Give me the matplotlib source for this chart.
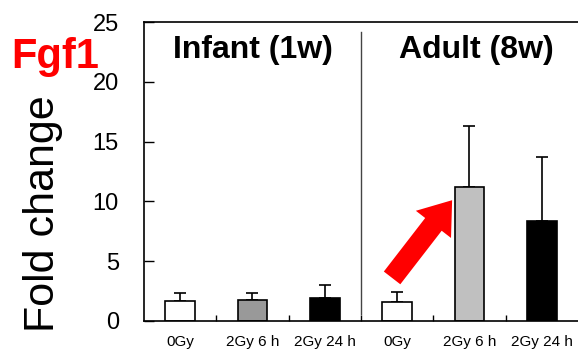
import matplotlib
matplotlib.use("Agg")
import matplotlib.pyplot as plt
import numpy as np

plt.rcParams['font.family'] = ['Liberation Sans', 'DejaVu Sans']

# data
labels = ["0Gy", "2Gy 6 h", "2Gy 24 h", "0Gy", "2Gy 6 h", "2Gy 24 h"]
means = [1.7, 1.78, 1.9, 1.6, 11.2, 8.35]
sd = [0.6, 0.56, 1.1, 0.8, 5.1, 5.4]
colors = ["white", "#999999", "black", "white", "#c0c0c0", "black"]
groups = ["Infant (1w)", "Adult (8w)"]

fig = plt.figure(figsize=(5.78, 3.5), dpi=100)
ax = fig.add_axes([0.249, 0.083, 0.751, 0.854])

x = np.arange(len(means))
ax.bar(x, means, width=0.41, color=colors, edgecolor="black", linewidth=1.2, zorder=2)
ax.errorbar(x, means, yerr=[np.zeros(len(sd)), sd], fmt="none", ecolor="black",
            elinewidth=1.2, capsize=4, capthick=1.2, zorder=1)

ax.set_xlim(-0.5, 5.5)
ax.set_ylim(0, 25)
ax.set_yticks(range(0, 26, 5))
ax.tick_params(axis="y", direction="in", length=7, width=1, labelsize=17, pad=18)
ax.set_xticks(x)
ax.set_xticklabels(labels, fontsize=11)
ax.tick_params(axis="x", which="major", length=0, pad=10)
ax.set_xticks(np.arange(0.5, 5.5, 1), minor=True)
ax.tick_params(axis="x", which="minor", direction="in", length=4, width=1)
ax.spines["right"].set_visible(False)
for s in ["left", "top", "bottom"]:
    ax.spines[s].set_linewidth(1.2)

# divider between age groups
ax.plot([2.5, 2.5], [0.6, 24.2], color="#444444", lw=1, zorder=1)

ax.text(1.0, 22.7, groups[0], ha="center", va="center", fontsize=23, fontweight="bold")
ax.text(4.1, 22.7, groups[1], ha="center", va="center", fontsize=23, fontweight="bold")

# red arrow highlighting the increase
ax.annotate("", xy=(3.76, 10.1), xytext=(2.93, 3.6),
            arrowprops=dict(arrowstyle="simple,head_length=1.1,head_width=1.6,tail_width=0.75",
                            color="red", lw=0, mutation_scale=20,
                            shrinkA=0, shrinkB=0))

fig.text(0.02, 1 - 68 / 350, "Fgf1", color="red", fontsize=30, fontweight="bold",
         ha="left", va="baseline")
fig.text(0.075, 0.39, "Fold change", rotation=90, fontsize=31, ha="center", va="center")

fig.savefig("out.png", dpi=100)
